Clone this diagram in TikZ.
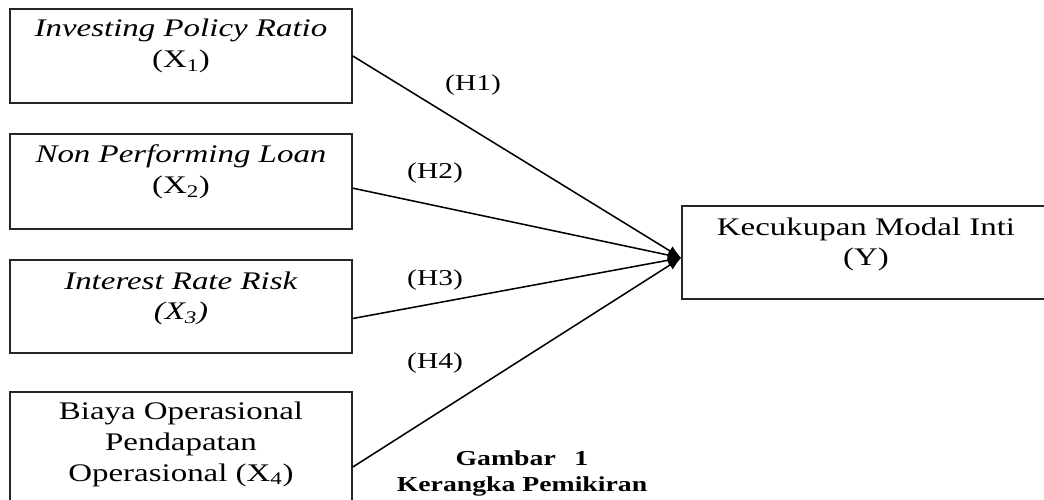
\documentclass[tikz,border=0pt]{standalone}
\usepackage{fontspec}
\setmainfont{Liberation Serif}[FakeStretch=1.3]
\usepackage{tikz}
\usetikzlibrary{arrows.meta, positioning}

\begin{document}
\begin{tikzpicture}[x=0.75pt, y=-0.75pt,
    varbox/.style={draw=black!85, line width=1.2pt, inner sep=0pt, minimum width=256.5pt},
    vartext/.style={align=center, inner sep=0pt, font=\fontsize{19}{23}\selectfont},
    hypo/.style={inner sep=0pt, font=\fontsize{17}{20}\selectfont},
    link/.style={line width=1.15pt, -{Latex[length=10pt, width=8pt]}}]
  \clip (0, 0) rectangle (1044, 499);

  % independent variables
  \node[varbox, minimum height=70.5pt] (x1) at (181, 56) {};
  \node[varbox, minimum height=71.25pt] (x2) at (181, 181.5) {};
  \node[varbox, minimum height=69.75pt] (x3) at (181, 306.5) {};
  \node[varbox, minimum height=88.5pt] (x4) at (181, 451) {};
  \node[vartext, below=8pt of x1.north] (x1t) {\textit{Investing Policy Ratio}\\(X\textsubscript{1})};
  \node[vartext, below=8.5pt of x2.north] (x2t) {\textit{Non Performing Loan}\\(X\textsubscript{2})};
  \node[vartext, below=9pt of x3.north] (x3t) {\textit{Interest Rate Risk}\\\textit{(X\textsubscript{3})}};
  \node[vartext, below=8pt of x4.north] (x4t) {Biaya Operasional\\Pendapatan\\Operasional (X\textsubscript{4})};

  % dependent variable
  \node[varbox, minimum width=276pt, minimum height=69.75pt] (y) at (866, 252.5) {};
  \node[vartext, below=9pt of y.north] (yt) {Kecukupan Modal Inti\\(Y)};

  % hypotheses
  \draw[link] (x1.east) -- ([yshift=-4pt]y.west);
  \draw[link] ([yshift=-5pt]x2.east) -- ([yshift=-4pt]y.west);
  \draw[link] ([yshift=-9pt]x3.east) -- ([yshift=-4pt]y.west);
  \draw[link] ([yshift=-12pt]x4.east) -- ([yshift=-4pt]y.west);
  \node[hypo] (h1) at (473, 85) {(H1)};
  \node[hypo] (h2) at (435, 173) {(H2)};
  \node[hypo] (h3) at (435, 280) {(H3)};
  \node[hypo] (h4) at (435, 363) {(H4)};

  % caption
  \node[align=center, inner sep=0pt, anchor=north, font=\bfseries\fontsize{16}{20}\selectfont] (cap) at (522, 450) {Gambar\hspace{14pt}1\\Kerangka Pemikiran};
\end{tikzpicture}
\end{document}
